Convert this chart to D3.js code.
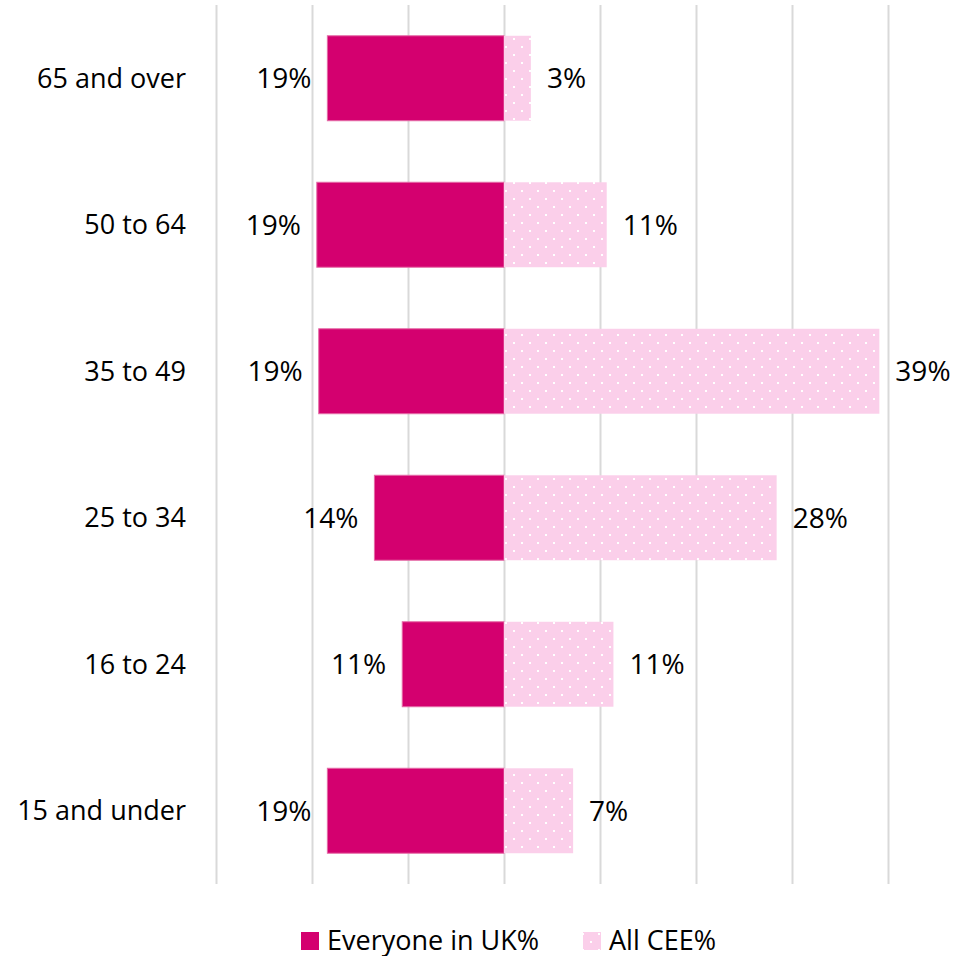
<!DOCTYPE html>
<html lang="en">
<head>
    <meta charset="UTF-8">
    <title>Age profile - Everyone in UK vs All CEE</title>
    <style>
        body { margin: 0; background: #fff; }
        svg { display: block; font-family: "Open Sans", "Noto Sans", sans-serif; }
    </style>
</head>
<body>
    <div class="box"></div>
    <script src="https://d3js.org/d3.v7.min.js"></script>
    <script>
        // data, top bar first
        const categories = ['65 and over', '50 to 64', '35 to 49', '25 to 34', '16 to 24', '15 and under'];
        const ukValues = [18.4, 19.5, 19.3, 13.5, 10.6, 18.4];
        const ceeValues = [2.8, 10.7, 39.1, 28.4, 11.4, 7.2];
        const ukLabels = ['19%', '19%', '19%', '14%', '11%', '19%'];
        const ceeLabels = ['3%', '11%', '39%', '28%', '11%', '7%'];
        const gridTicks = [-30, -20, -10, 0, 10, 20, 30, 40];
        const seriesNames = ['Everyone in UK%', 'All CEE%'];

        const dark = '#d4006f';
        const light = '#fbcfea';

        const svg = d3.select('.box').append('svg')
            .attr('width', 974)
            .attr('height', 956);

        const margin = { top: 5, left: 216, right: 86, bottom: 72 };
        const innerWidth = 974 - margin.left - margin.right;
        const innerHeight = 956 - margin.top - margin.bottom;

        // dotted fill for All CEE
        const defs = svg.append('defs');
        const pat = defs.append('pattern')
            .attr('id', 'dots')
            .attr('patternUnits', 'userSpaceOnUse')
            .attr('x', 504).attr('y', 0)
            .attr('width', 16).attr('height', 16);
        pat.append('rect').attr('width', 16).attr('height', 16).attr('fill', light);
        pat.append('rect').attr('x', 1).attr('y', 1).attr('width', 2).attr('height', 2).attr('fill', '#fff');
        pat.append('rect').attr('x', 9).attr('y', 9).attr('width', 2).attr('height', 2).attr('fill', '#fff');

        const xScale = d3.scaleLinear()
            .domain([-30, 40])
            .range([0, innerWidth]);

        const yScale = d3.scaleBand()
            .domain(categories)
            .range([0, innerHeight])
            .paddingInner(0.42)
            .paddingOuter(0.21);

        const g = svg.append('g')
            .attr('transform', `translate(${margin.left}, ${margin.top})`);

        // vertical gridlines
        const xAxis = d3.axisBottom(xScale)
            .tickValues(gridTicks)
            .tickSize(-innerHeight)
            .tickFormat('');
        const xAxisGroup = g.append('g').call(xAxis)
            .attr('transform', `translate(0, ${innerHeight})`);
        xAxisGroup.select('.domain').remove();
        xAxisGroup.selectAll('.tick text').remove();
        xAxisGroup.selectAll('.tick line')
            .attr('stroke', '#d9d9d9')
            .attr('stroke-width', 2);

        // category labels
        const yAxis = d3.axisLeft(yScale).tickSize(0).tickPadding(30);
        const yAxisGroup = g.append('g').call(yAxis);
        yAxisGroup.select('.domain').remove();
        yAxisGroup.selectAll('.tick text')
            .attr('font-size', '27px')
            .attr('font-family', '"Open Sans", sans-serif')
            .attr('fill', '#000')
            .attr('dy', '0.35em');

        const rows = categories.map((c, i) => ({
            cat: c, uk: ukValues[i], cee: ceeValues[i], ukLabel: ukLabels[i], ceeLabel: ceeLabels[i]
        }));

        // Everyone in UK bars (to the left)
        g.selectAll('.uk-rect').data(rows).join('rect')
            .attr('class', 'uk-rect')
            .attr('x', d => xScale(-d.uk))
            .attr('y', d => yScale(d.cat))
            .attr('width', d => xScale(0) - xScale(-d.uk))
            .attr('height', yScale.bandwidth())
            .attr('fill', dark)
            .attr('stroke', '#e46aa6')
            .attr('stroke-width', 1);

        // All CEE bars (to the right)
        g.selectAll('.cee-rect').data(rows).join('rect')
            .attr('class', 'cee-rect')
            .attr('x', xScale(0))
            .attr('y', d => yScale(d.cat))
            .attr('width', d => xScale(d.cee) - xScale(0))
            .attr('height', yScale.bandwidth())
            .attr('fill', 'url(#dots)');

        // value labels
        g.selectAll('.uk-text').data(rows).join('text')
            .attr('class', 'uk-text')
            .text(d => d.ukLabel)
            .attr('x', d => xScale(-d.uk) - 16)
            .attr('y', d => yScale(d.cat) + yScale.bandwidth() / 2)
            .attr('dy', '0.35em')
            .attr('text-anchor', 'end')
            .attr('font-size', '28px')
            .attr('fill', '#000');

        g.selectAll('.cee-text').data(rows).join('text')
            .attr('class', 'cee-text')
            .text(d => d.ceeLabel)
            .attr('x', d => xScale(d.cee) + 16)
            .attr('y', d => yScale(d.cat) + yScale.bandwidth() / 2)
            .attr('dy', '0.35em')
            .attr('text-anchor', 'start')
            .attr('font-size', '28px')
            .attr('fill', '#000');

        // legend
        const legend = svg.append('g').attr('transform', 'translate(301, 932)');
        const legendX = [0, 282];
        const legendFill = [dark, 'url(#dots)'];
        legend.selectAll('.l-rect').data(seriesNames).join('rect')
            .attr('x', (d, i) => legendX[i])
            .attr('y', 0)
            .attr('width', 18)
            .attr('height', 18)
            .attr('fill', (d, i) => legendFill[i]);
        legend.selectAll('.l-text').data(seriesNames).join('text')
            .text(d => d)
            .attr('x', (d, i) => legendX[i] + 26)
            .attr('y', 9)
            .attr('dy', '0.35em')
            .attr('font-size', '27px')
            .attr('fill', '#000');
    </script>
</body>
</html>
